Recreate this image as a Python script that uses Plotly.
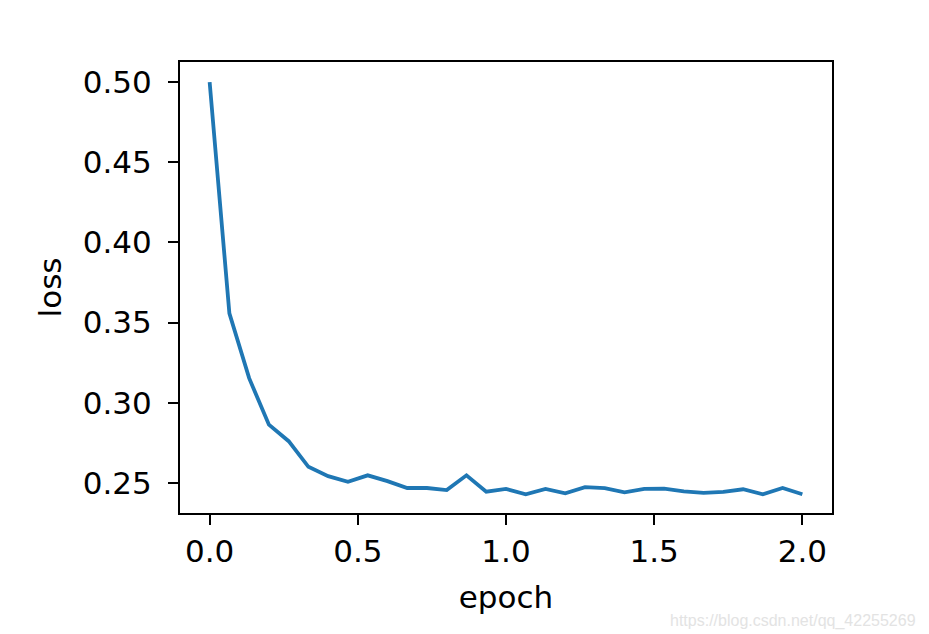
import plotly.graph_objects as go

epoch = [i * 2 / 30 for i in range(31)]
loss = [0.500, 0.3557, 0.3153, 0.2863, 0.2760, 0.2600, 0.2542, 0.2507, 0.2547, 0.2511,
        0.2468, 0.2468, 0.2455, 0.2547, 0.2445, 0.2462, 0.2429, 0.2462, 0.2435, 0.2473,
        0.2467, 0.2441, 0.2462, 0.2464, 0.2447, 0.2437, 0.2444, 0.2460, 0.2429, 0.2468,
        0.2429]
x_ticks = [0.0, 0.5, 1.0, 1.5, 2.0]
y_ticks = [0.25, 0.30, 0.35, 0.40, 0.45, 0.50]

fig = go.Figure()
fig.add_trace(go.Scatter(x=epoch, y=loss, mode="lines",
                         line=dict(color="#1f77b4", width=3.8), showlegend=False))

font = dict(family="DejaVu Sans", size=31, color="black")
fig.update_layout(
    width=929, height=634,
    margin=dict(l=180, r=97, t=62, b=121),
    paper_bgcolor="white", plot_bgcolor="white",
    font=font,
    xaxis=dict(range=[-0.1, 2.1], tickvals=x_ticks, ticktext=[f"{v:.1f}" for v in x_ticks],
               showgrid=False, zeroline=False, showline=True, linecolor="black", linewidth=2,
               mirror=True, ticks="outside", ticklen=10, tickwidth=2, tickcolor="black",
               ticklabelstandoff=0,
               title=dict(text="epoch", font=font, standoff=18)),
    yaxis=dict(range=[0.2312, 0.5125], tickvals=y_ticks, ticktext=[f"{v:.2f}" for v in y_ticks],
               showgrid=False, zeroline=False, showline=True, linecolor="black", linewidth=2,
               mirror=True, ticks="outside", ticklen=10, tickwidth=2, tickcolor="black",
               ticklabelstandoff=10,
               title=dict(text="loss", font=font, standoff=12)),
    annotations=[dict(text="https://blog.csdn.net/qq_42255269", xref="paper", yref="paper",
                      x=1.132, y=-0.215, xanchor="right", yanchor="top", showarrow=False,
                      font=dict(family="Liberation Sans Narrow, Liberation Sans", size=16,
                                color="#e3e3e3"))],
)
fig.write_html("out.html", config={"displayModeBar": False},
               post_script="document.body.style.margin='0';document.body.style.padding='0';")
